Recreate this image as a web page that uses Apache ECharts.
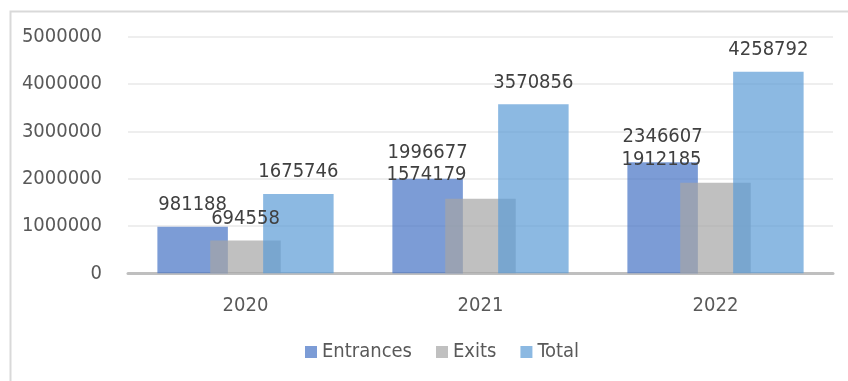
<!DOCTYPE html>
<html>
<head>
<meta charset="utf-8">
<script src="https://cdn.jsdelivr.net/npm/echarts@6/dist/echarts.min.js"></script>
<style>
html,body{margin:0;padding:0;background:#fff;}
#chart{width:848px;height:381px;}
</style>
</head>
<body>
<div id="chart"></div>
<script>
var categories = ['2020', '2021', '2022'];
var entrances = [981188, 1996677, 2346607];
var exits = [694558, 1574179, 1912185];
var total = [1675746, 3570856, 4258792];
var yTicks = [0, 1000000, 2000000, 3000000, 4000000, 5000000];

var FONT = "'DejaVu Sans Condensed', 'Noto Sans', sans-serif";
var TXT = '#595959';

// label nudges (style only) per series / category
var entOffsets = [[0, 0], [0, -4], [0, -3]];
var exitOffsets = [[0, 0], [-54, -2], [-54, -1]];
var totOffsets = [[0, 0], [0, 0], [0, 0]];

function items(values, offsets) {
  return values.map(function (v, i) {
    return { value: v, label: { offset: offsets[i] } };
  });
}

var labelCfg = {
  show: true, position: 'top', distance: 12,
  color: '#404040', fontSize: 20, fontFamily: FONT
};

var chart = echarts.init(document.getElementById('chart'), null, { renderer: 'canvas' });
chart.setOption({
  animation: false,
  backgroundColor: '#ffffff',
  graphic: [{
    type: 'rect', left: 8, top: 9,
    shape: { width: 900, height: 420 },
    style: { fill: 'none', stroke: '#D9D9D9', lineWidth: 2 },
    silent: true
  }],
  grid: { left: 128, right: 15, top: 36.7, bottom: 107.7 },
  legend: {
    bottom: 14, left: 300,
    itemWidth: 12, itemHeight: 12, itemGap: 24,
    icon: 'rect',
    textStyle: { color: TXT, fontSize: 20, fontFamily: FONT },
    data: ['Entrances', 'Exits', 'Total']
  },
  xAxis: {
    type: 'category', data: categories,
    axisLine: { lineStyle: { color: '#BFBFBF', width: 3 } },
    axisTick: { show: false },
    axisLabel: { color: TXT, fontSize: 20, fontFamily: FONT, margin: 22 }
  },
  yAxis: {
    type: 'value', min: yTicks[0], max: yTicks[yTicks.length - 1], interval: 1000000,
    axisLine: { show: false }, axisTick: { show: false },
    splitLine: { lineStyle: { color: '#E8E8E8', width: 1.5 } },
    axisLabel: {
      color: TXT, fontSize: 20, fontFamily: FONT, margin: 26,
      formatter: function (v) { return String(v); }
    }
  },
  series: [
    {
      name: 'Entrances', type: 'bar', data: items(entrances, entOffsets),
      barGap: '-25%', barCategoryGap: '25%',
      itemStyle: { color: 'rgba(68,114,196,0.7)' },
      label: labelCfg
    },
    {
      name: 'Exits', type: 'bar', data: items(exits, exitOffsets),
      barGap: '-25%', barCategoryGap: '25%',
      itemStyle: { color: 'rgba(165,165,165,0.7)' },
      label: labelCfg
    },
    {
      name: 'Total', type: 'bar', data: items(total, totOffsets),
      barGap: '-25%', barCategoryGap: '25%',
      itemStyle: { color: 'rgba(91,155,213,0.7)' },
      label: labelCfg
    }
  ]
});
</script>
</body>
</html>
